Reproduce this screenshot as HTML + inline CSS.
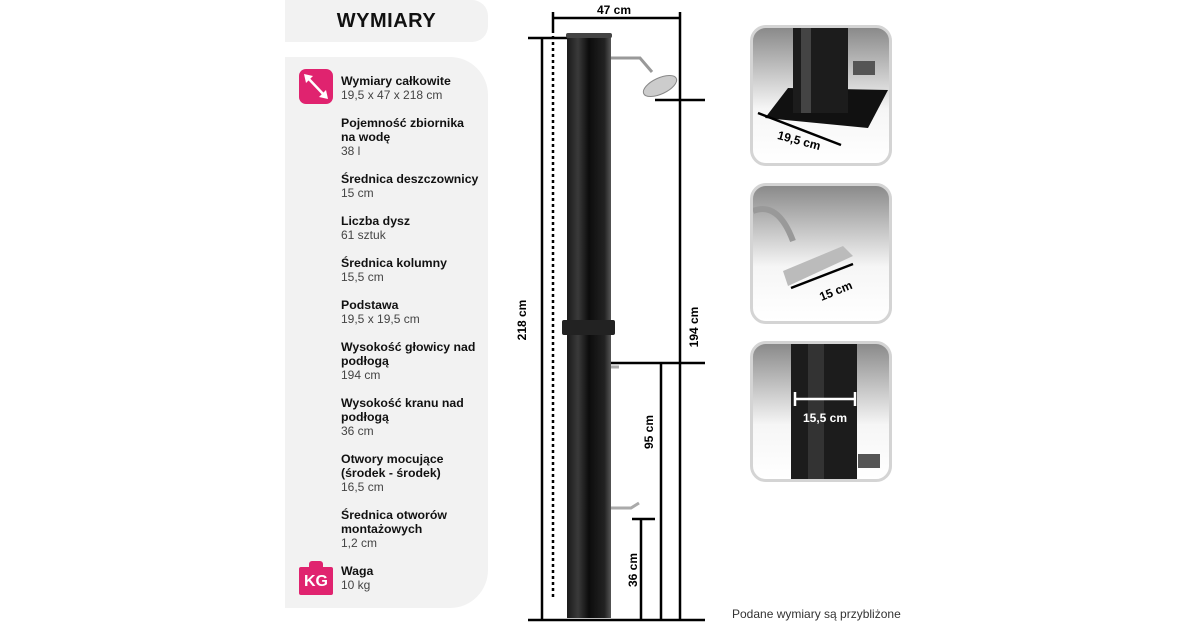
<!DOCTYPE html>
<html><head><meta charset="utf-8"><style>
body{margin:0;width:1200px;height:630px;background:#fff;position:relative;overflow:hidden;font-family:"Liberation Sans","DejaVu Sans",sans-serif;color:#111}
.t{position:absolute;left:341px;font-size:12.3px;line-height:14px}
.t b{display:block;font-weight:bold}
.t span{color:#444;font-size:12px}
.box{position:absolute;left:750px;width:136px;height:135px;border:3px solid #d4d4d4;border-radius:16px;overflow:hidden;background:linear-gradient(#8a8a8a,#f6f6f6 60%,#fff)}
</style></head><body>
<div style="position:absolute;left:285px;top:0;width:203px;height:42px;background:#f2f2f2;border-radius:0 16px 16px 0"></div>
<div style="position:absolute;left:285px;top:0;width:203px;height:42px;line-height:42px;text-align:center;font-weight:900;font-size:20px;letter-spacing:0.5px">WYMIARY</div>
<div style="position:absolute;left:285px;top:57px;width:203px;height:551px;background:#f2f2f2;border-radius:0 38px 38px 0"></div>
<div style="position:absolute;left:299px;top:69px;width:34px;height:35px;background:#e0236f;border-radius:7px"></div>
<svg style="position:absolute;left:299px;top:69px" width="34" height="35"><line x1="8" y1="8" x2="26" y2="27" stroke="#fff" stroke-width="2.5"/><polygon points="5,5 14,7 7,14" fill="#fff"/><polygon points="29,30 20,28 27,21" fill="#fff"/></svg>
<div style="position:absolute;left:299px;top:567px;width:34px;height:28px;background:#e0236f;border-radius:2px;color:#fff;font-weight:bold;font-size:16px;line-height:30px;text-align:center">KG</div>
<div style="position:absolute;left:309px;top:561px;width:14px;height:8px;background:#e0236f;border-radius:3px 3px 0 0"></div>
<div class="t" style="top:74px"><b>Wymiary całkowite</b><span>19,5 x 47 x 218 cm</span></div>
<div class="t" style="top:116px"><b>Pojemność zbiornika<br>na wodę</b><span>38 l</span></div>
<div class="t" style="top:172px"><b>Średnica deszczownicy</b><span>15 cm</span></div>
<div class="t" style="top:214px"><b>Liczba dysz</b><span>61 sztuk</span></div>
<div class="t" style="top:256px"><b>Średnica kolumny</b><span>15,5 cm</span></div>
<div class="t" style="top:298px"><b>Podstawa</b><span>19,5 x 19,5 cm</span></div>
<div class="t" style="top:340px"><b>Wysokość głowicy nad<br>podłogą</b><span>194 cm</span></div>
<div class="t" style="top:396px"><b>Wysokość kranu nad<br>podłogą</b><span>36 cm</span></div>
<div class="t" style="top:452px"><b>Otwory mocujące<br>(środek - środek)</b><span>16,5 cm</span></div>
<div class="t" style="top:508px"><b>Średnica otworów<br>montażowych</b><span>1,2 cm</span></div>
<div class="t" style="top:564px"><b>Waga</b><span>10 kg</span></div>

<svg style="position:absolute;left:0;top:0" width="1200" height="630" font-family="Liberation Sans, sans-serif" font-weight="bold" font-size="12">
<defs><linearGradient id="tube" x1="0" x2="1"><stop offset="0" stop-color="#1a1a1a"/><stop offset="0.25" stop-color="#3a3a3a"/><stop offset="0.5" stop-color="#0c0c0c"/><stop offset="0.85" stop-color="#222"/><stop offset="1" stop-color="#555"/></linearGradient></defs>
<g stroke="#000" stroke-width="2.5" fill="none">
<line x1="553" y1="18" x2="680" y2="18"/><line x1="553" y1="12" x2="553" y2="30"/><line x1="680" y1="12" x2="680" y2="620"/>
<line x1="528" y1="38" x2="570" y2="38"/><line x1="542" y1="38" x2="542" y2="620"/>
<line x1="528" y1="620" x2="705" y2="620"/>
<line x1="655" y1="100" x2="705" y2="100"/>
<line x1="605" y1="363" x2="705" y2="363"/><line x1="661" y1="363" x2="661" y2="620"/>
<line x1="632" y1="519" x2="655" y2="519"/><line x1="641" y1="519" x2="641" y2="620"/>
<line x1="553" y1="30" x2="553" y2="600" stroke-dasharray="3,3"/>
</g>
<rect x="567" y="34" width="44" height="584" fill="url(#tube)"/>
<rect x="566" y="33" width="46" height="5" fill="#444" rx="2"/>
<rect x="562" y="320" width="53" height="15" fill="#222" rx="2"/>
<path d="M611 58 H640 L652 72" stroke="#999" stroke-width="3" fill="none"/>
<ellipse cx="660" cy="86" rx="18" ry="8" fill="#ccc" stroke="#888" transform="rotate(-25 660 86)"/>
<path d="M611 367 h8" stroke="#aaa" stroke-width="3"/>
<path d="M611 508 h20 l8 -5" stroke="#aaa" stroke-width="3" fill="none"/>
<text x="614" y="14" text-anchor="middle">47 cm</text>
<text transform="translate(526 320) rotate(-90)" text-anchor="middle">218 cm</text>
<text transform="translate(698 327) rotate(-90)" text-anchor="middle">194 cm</text>
<text transform="translate(653 432) rotate(-90)" text-anchor="middle">95 cm</text>
<text transform="translate(637 570) rotate(-90)" text-anchor="middle">36 cm</text>
<text x="732" y="618" font-weight="normal" font-size="12" fill="#333">Podane wymiary są przybliżone</text>
</svg>

<div class="box" style="top:25px">
<svg width="136" height="135"><polygon points="12,90 35,60 135,62 115,100" fill="#111"/><rect x="40" y="0" width="55" height="85" fill="#1c1c1c"/><rect x="48" y="0" width="10" height="85" fill="#444"/><rect x="100" y="33" width="22" height="14" fill="#555"/><line x1="5" y1="85" x2="88" y2="117" stroke="#000" stroke-width="2.5"/><text x="24" y="115" font-weight="bold" font-size="12" transform="rotate(15 40 112)" font-family="Liberation Sans">19,5 cm</text></svg></div>
<div class="box" style="top:183px">
<svg width="136" height="135"><path d="M0 25 Q25 15 40 55" stroke="#999" stroke-width="6" fill="none"/><polygon points="30,85 90,60 100,70 35,100" fill="#bbb"/><line x1="38" y1="102" x2="100" y2="78" stroke="#000" stroke-width="2.5"/><text x="66" y="114" font-weight="bold" font-size="12" transform="rotate(-22 70 108)" font-family="Liberation Sans">15 cm</text></svg></div>
<div class="box" style="top:341px">
<svg width="136" height="135"><rect x="38" y="0" width="66" height="135" fill="#1c1c1c"/><rect x="55" y="0" width="16" height="135" fill="#333"/><rect x="105" y="110" width="22" height="14" fill="#555"/><line x1="42" y1="55" x2="102" y2="55" stroke="#fff" stroke-width="2.5"/><line x1="42" y1="48" x2="42" y2="62" stroke="#fff" stroke-width="2.5"/><line x1="102" y1="48" x2="102" y2="62" stroke="#fff" stroke-width="2.5"/><text x="72" y="78" fill="#fff" font-weight="bold" font-size="12" text-anchor="middle" font-family="Liberation Sans">15,5 cm</text></svg></div>
</body></html>
